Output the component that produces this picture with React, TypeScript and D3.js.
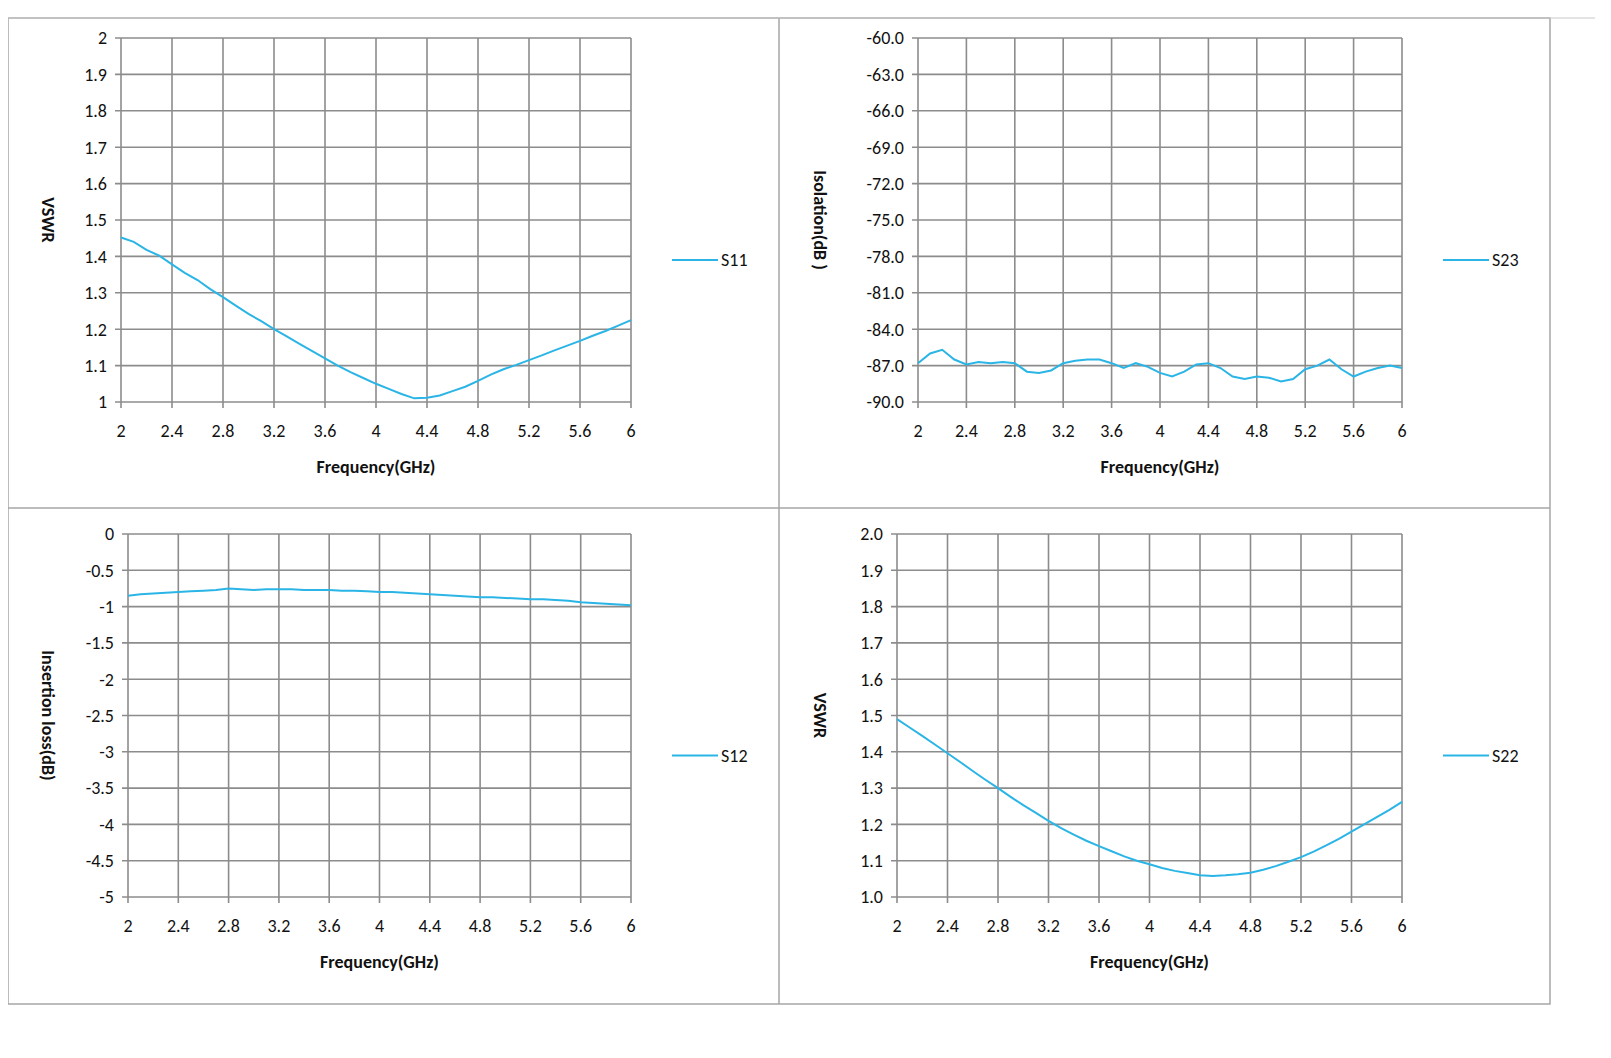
import React, { useEffect, useRef } from "react";
import * as d3 from "d3";

// frequency grid, 0.1 GHz steps from 2 to 6
const freqs = d3.range(41).map((i) => +(2 + i * 0.1).toFixed(1));

const s11 = [1.452, 1.44, 1.418, 1.402, 1.378, 1.355, 1.335, 1.31, 1.288, 1.265, 1.242, 1.222, 1.2, 1.18, 1.16, 1.14, 1.12, 1.1, 1.082, 1.066, 1.05, 1.036, 1.022, 1.01, 1.012, 1.018, 1.03, 1.042, 1.058, 1.075, 1.09, 1.102, 1.115, 1.128, 1.142, 1.155, 1.168, 1.182, 1.195, 1.21, 1.225];
const s23 = [-86.8, -86.0, -85.7, -86.5, -86.9, -86.7, -86.8, -86.7, -86.8, -87.5, -87.6, -87.4, -86.8, -86.6, -86.5, -86.5, -86.8, -87.2, -86.8, -87.1, -87.6, -87.9, -87.5, -86.9, -86.8, -87.2, -87.9, -88.1, -87.9, -88.0, -88.3, -88.1, -87.3, -87.0, -86.5, -87.3, -87.9, -87.5, -87.2, -87.0, -87.2];
const s12 = [-0.85, -0.83, -0.82, -0.81, -0.8, -0.79, -0.78, -0.77, -0.75, -0.76, -0.77, -0.76, -0.76, -0.76, -0.77, -0.77, -0.77, -0.78, -0.78, -0.79, -0.8, -0.8, -0.81, -0.82, -0.83, -0.84, -0.85, -0.86, -0.87, -0.87, -0.88, -0.89, -0.9, -0.9, -0.91, -0.92, -0.94, -0.95, -0.96, -0.97, -0.98];
const s22 = [1.49, 1.467, 1.444, 1.42, 1.396, 1.372, 1.347, 1.323, 1.3, 1.276, 1.253, 1.232, 1.21, 1.19, 1.172, 1.155, 1.14, 1.126, 1.112, 1.1, 1.09, 1.08, 1.072, 1.066, 1.06, 1.058, 1.06, 1.063, 1.067, 1.075, 1.085, 1.097, 1.11, 1.125, 1.142, 1.16, 1.18, 1.2, 1.22, 1.24, 1.262];

const xTicks = [2, 2.4, 2.8, 3.2, 3.6, 4, 4.4, 4.8, 5.2, 5.6, 6];

interface Panel {
  name: string;
  values: number[];
  yDomain: [number, number];
  yStep: number;
  yFmt: (v: number) => string;
  yLabel: string;
  plot: { x0: number; x1: number; y0: number; y1: number };
  labelX: number;
  legendX: number;
}

const plain = (v: number) => String(+v.toFixed(1));

const panels: Panel[] = [
  { name: "S11", values: s11, yDomain: [1, 2], yStep: 0.1, yFmt: plain, yLabel: "VSWR",
    plot: { x0: 121, x1: 631, y0: 38, y1: 402 }, labelX: 48, legendX: 672 },
  { name: "S23", values: s23, yDomain: [-90, -60], yStep: 3, yFmt: (v) => v.toFixed(1), yLabel: "Isolation(dB )",
    plot: { x0: 918, x1: 1402, y0: 38, y1: 402 }, labelX: 820, legendX: 1443 },
  { name: "S12", values: s12, yDomain: [-5, 0], yStep: 0.5, yFmt: plain, yLabel: "Insertion loss(dB)",
    plot: { x0: 128, x1: 631, y0: 534, y1: 897 }, labelX: 48, legendX: 672 },
  { name: "S22", values: s22, yDomain: [1, 2], yStep: 0.1, yFmt: (v) => v.toFixed(1), yLabel: "VSWR",
    plot: { x0: 897, x1: 1402, y0: 534, y1: 897 }, labelX: 820, legendX: 1443 },
];

const font = "Carlito, 'Open Sans', 'Liberation Sans', sans-serif";
const lineColor = "#2bb5e6";

const App: React.FC = () => {
  const ref = useRef<SVGSVGElement | null>(null);

  useEffect(() => {
    if (!ref.current) return;
    const svg = d3.select(ref.current);
    svg.selectAll("*").remove();

    // frame
    const frame = svg.append("g").attr("fill", "none").attr("stroke", "#a6a6a6").attr("stroke-width", 1.5);
    frame.append("rect").attr("x", 8).attr("y", 18).attr("width", 1542).attr("height", 986);
    frame.append("line").attr("x1", 779).attr("x2", 779).attr("y1", 18).attr("y2", 1004);
    frame.append("line").attr("x1", 8).attr("x2", 1550).attr("y1", 508).attr("y2", 508);
    svg.append("line").attr("x1", 0).attr("x2", 1611).attr("y1", 18).attr("y2", 18).attr("stroke", "#c8c8c8");

    panels.forEach((p) => {
      const g = svg.append("g");
      const x = d3.scaleLinear().domain([2, 6]).range([p.plot.x0, p.plot.x1]);
      const y = d3.scaleLinear().domain(p.yDomain).range([p.plot.y1, p.plot.y0]);
      const n = Math.round((p.yDomain[1] - p.yDomain[0]) / p.yStep);
      const yTicks = d3.range(n + 1).map((i) => p.yDomain[0] + i * p.yStep);

      // grid
      const grid = g.append("g").attr("stroke", "#8c8c8c").attr("stroke-width", 1.6);
      yTicks.forEach((t) => {
        grid.append("line").attr("x1", p.plot.x0 - 6).attr("x2", p.plot.x1).attr("y1", y(t)).attr("y2", y(t));
      });
      xTicks.forEach((t) => {
        grid.append("line").attr("x1", x(t)).attr("x2", x(t)).attr("y1", p.plot.y0).attr("y2", p.plot.y1 + 6);
      });

      const txt = g.append("g").attr("font-family", font).attr("font-size", 18).attr("fill", "#111");
      yTicks.forEach((t) => {
        txt.append("text").attr("x", p.plot.x0 - 14).attr("y", y(t)).attr("dy", "0.35em")
          .attr("text-anchor", "end").text(p.yFmt(t));
      });
      xTicks.forEach((t) => {
        txt.append("text").attr("x", x(t)).attr("y", p.plot.y1 + 35).attr("text-anchor", "middle").text(String(t));
      });
      txt.append("text").attr("x", (p.plot.x0 + p.plot.x1) / 2).attr("y", p.plot.y1 + 71)
        .attr("text-anchor", "middle").attr("font-weight", "bold").text("Frequency(GHz)");
      const cy = (p.plot.y0 + p.plot.y1) / 2;
      txt.append("text").attr("transform", `translate(${p.labelX},${cy}) rotate(90)`)
        .attr("text-anchor", "middle").attr("dy", "0.35em").attr("font-weight", "bold").text(p.yLabel);

      const line = d3.line<number>().x((_, i) => x(freqs[i])).y((d) => y(d));
      g.append("path").datum(p.values).attr("d", line).attr("fill", "none")
        .attr("stroke", lineColor).attr("stroke-width", 2);

      // legend
      const ly = p.plot.y0 + (p.plot.y1 - p.plot.y0) * 0.61;
      g.append("line").attr("x1", p.legendX).attr("x2", p.legendX + 46).attr("y1", ly).attr("y2", ly)
        .attr("stroke", lineColor).attr("stroke-width", 2);
      txt.append("text").attr("x", p.legendX + 49).attr("y", ly).attr("dy", "0.35em").text(p.name);
    });
  }, []);

  return <svg ref={ref} width={1595} height={1040} style={{ display: "block", marginTop: -8, marginLeft: -8 }} />;
};

export default App;
